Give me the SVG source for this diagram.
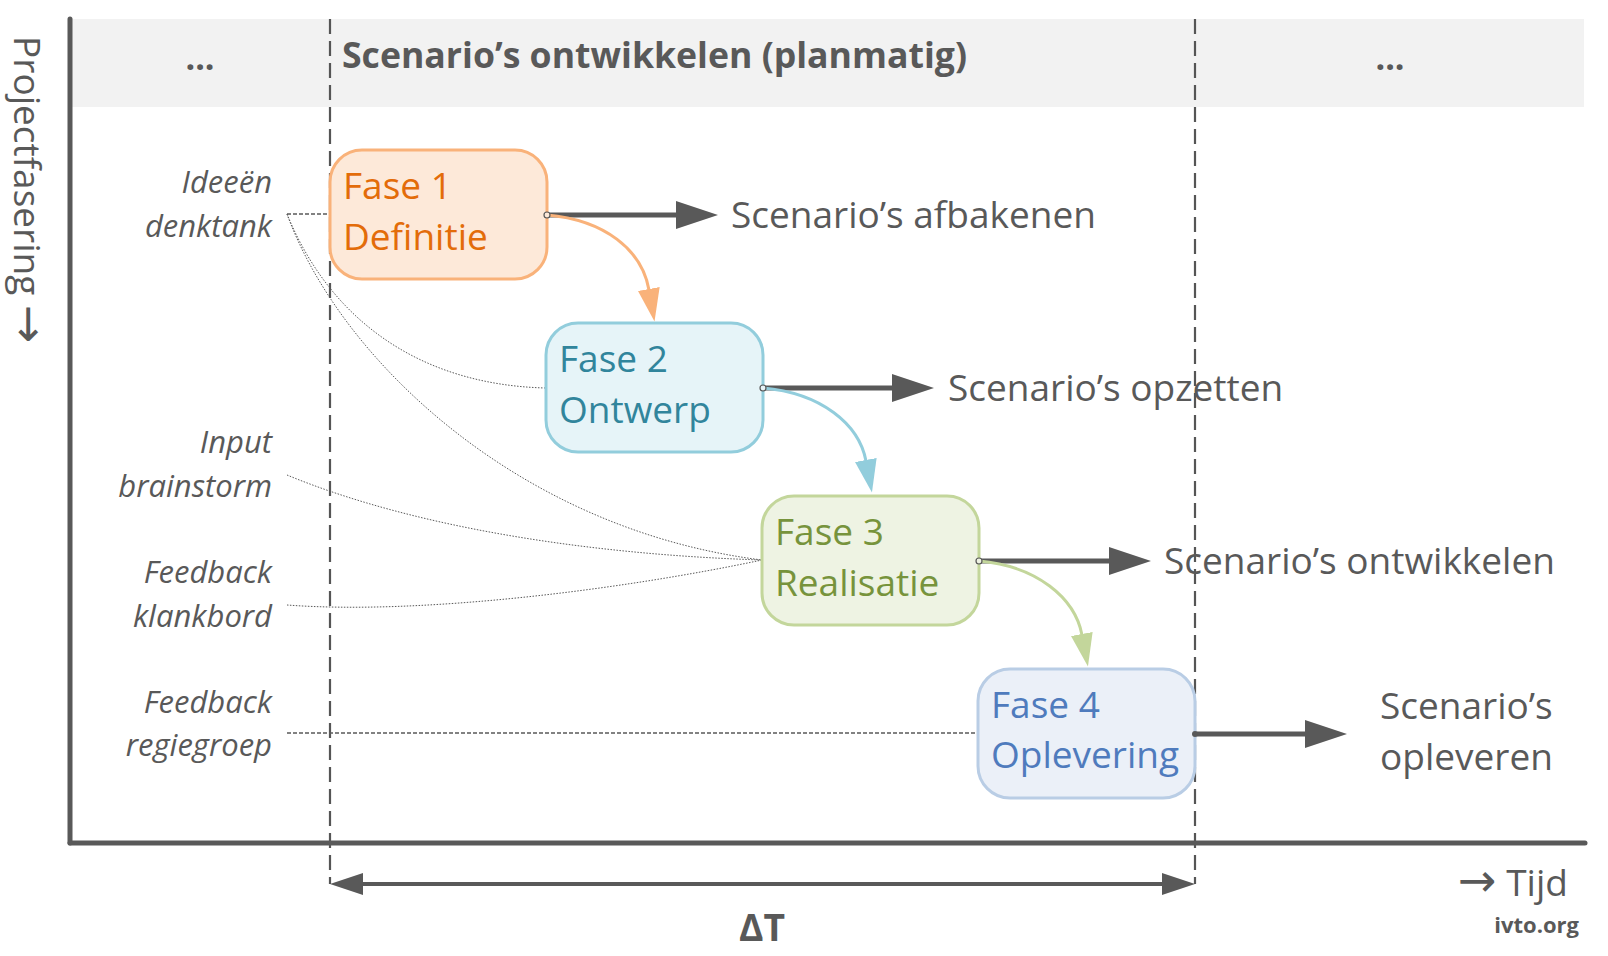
<svg xmlns="http://www.w3.org/2000/svg" width="1608" height="956" viewBox="0 0 1608 956">
<style>
  text { font-family: "Open Sans", "Noto Sans", "Liberation Sans", sans-serif; fill: #595959; }
  .lbl { font-size: 37px; }
  .arr { font-family: "DejaVu Sans", sans-serif; font-size: 46px; }
  .side { font-size: 31px; font-style: italic; text-anchor: end; }
  .box { stroke-width: 3; }
  .boxt { font-size: 37px; }
  .thin { fill: none; stroke: #595959; stroke-width: 1; stroke-dasharray: 1.5 1.5; }
  .dash { fill: none; stroke: #595959; stroke-width: 1.5; stroke-dasharray: 4 2; }
  .vdash { fill: none; stroke: #555555; stroke-width: 2.2; stroke-dasharray: 15 7; }
  .dark { fill: none; stroke: #595959; stroke-width: 5; }
  .axis { fill: none; stroke: #595959; stroke-width: 5; stroke-linecap: round; }
</style>
<defs>
  <marker id="hDark" markerUnits="userSpaceOnUse" viewBox="0 0 42 28" markerWidth="42" markerHeight="28" refX="1" refY="14" orient="auto">
    <path d="M0,0 L42,14 L0,28 z" fill="#595959"/>
  </marker>
  <marker id="hOrange" markerUnits="userSpaceOnUse" viewBox="0 0 33 22" markerWidth="33" markerHeight="22" refX="1" refY="11" orient="auto">
    <path d="M0,0 L33,11 L0,22 z" fill="#f9b27a"/>
  </marker>
  <marker id="hBlue" markerUnits="userSpaceOnUse" viewBox="0 0 33 22" markerWidth="33" markerHeight="22" refX="1" refY="11" orient="auto">
    <path d="M0,0 L33,11 L0,22 z" fill="#92cddc"/>
  </marker>
  <marker id="hGreen" markerUnits="userSpaceOnUse" viewBox="0 0 33 22" markerWidth="33" markerHeight="22" refX="1" refY="11" orient="auto">
    <path d="M0,0 L33,11 L0,22 z" fill="#c3d69b"/>
  </marker>
</defs>

<rect width="1608" height="956" fill="#ffffff"/>

<!-- header band -->
<g id="header">
  <rect x="70" y="19" width="1514" height="88" fill="#f2f2f2"/>
  <text x="200" y="70" font-size="34" font-weight="bold" text-anchor="middle">...</text>
  <text x="342" y="68" font-size="35" font-weight="bold" textLength="625" lengthAdjust="spacingAndGlyphs">Scenario’s ontwikkelen (planmatig)</text>
  <text x="1390" y="70" font-size="34" font-weight="bold" text-anchor="middle">...</text>
</g>

<!-- axes -->
<g id="axes">
  <line class="vdash" x1="330" y1="19" x2="330" y2="884"/>
  <line class="vdash" x1="1195" y1="19" x2="1195" y2="884"/>
  <line class="axis" x1="70" y1="19" x2="70" y2="843"/>
  <line class="axis" x1="70" y1="843" x2="1585" y2="843"/>
  <text class="lbl" transform="translate(14,36) rotate(90)">Projectfasering <tspan class="arr">→</tspan></text>
  <text class="lbl" x="1458" y="896"><tspan class="arr">→</tspan> Tijd</text>
  <text x="1579" y="933" font-size="22" font-weight="bold" text-anchor="end">ivto.org</text>
  <line stroke="#595959" stroke-width="4" x1="360" y1="884" x2="1165" y2="884"/>
  <polygon points="330,884 363,873 363,895" fill="#595959"/>
  <polygon points="1195,884 1162,873 1162,895" fill="#595959"/>
  <text x="762" y="941" font-family="Liberation Sans, sans-serif" font-size="38" font-weight="bold" text-anchor="middle" textLength="46" lengthAdjust="spacingAndGlyphs">ΔT</text>
</g>

<!-- side labels -->
<g id="labels">
  <text class="side" x="272" y="193">Ideeën</text>
  <text class="side" x="272" y="237">denktank</text>
  <text class="side" x="272" y="453">Input</text>
  <text class="side" x="272" y="497">brainstorm</text>
  <text class="side" x="272" y="583">Feedback</text>
  <text class="side" x="272" y="627">klankbord</text>
  <text class="side" x="272" y="713">Feedback</text>
  <text class="side" x="272" y="756">regiegroep</text>
</g>

<!-- connectors -->
<g id="connectors">
  <path class="dash" d="M287,214 L330,214"/>
  <path class="thin" d="M287,214 C330,320 420,385 546,388"/>
  <path class="thin" d="M287,214 C340,360 520,530 762,560"/>
  <path class="thin" d="M287,475 C420,530 600,555 762,560"/>
  <path class="thin" d="M287,605 C420,615 620,590 762,560"/>
  <path class="dash" d="M287,733 L978,733"/>

  <path class="dark" d="M547,215 L677,215" marker-end="url(#hDark)"/>
  <path class="dark" d="M763,388 L893,388" marker-end="url(#hDark)"/>
  <path class="dark" d="M979,561 L1110,561" marker-end="url(#hDark)"/>
  <path class="dark" d="M1195,734 L1306,734" marker-end="url(#hDark)"/>

  <path d="M547,215 C605,220 642,250 649,290" fill="none" stroke="#f9b27a" stroke-width="3" marker-end="url(#hOrange)"/>
  <path d="M763,388 C821,393 859,424 866,461" fill="none" stroke="#92cddc" stroke-width="3" marker-end="url(#hBlue)"/>
  <path d="M979,561 C1037,566 1075,598 1082,635" fill="none" stroke="#c3d69b" stroke-width="3" marker-end="url(#hGreen)"/>
</g>

<!-- nodes -->
<g id="fase1">
  <rect class="box" x="330" y="150" width="217" height="129" rx="32" fill="#fde9d9" stroke="#f9b27a"/>
  <text class="boxt" x="343" y="199" style="fill:#e36c09">Fase 1</text>
  <text class="boxt" x="343" y="250" style="fill:#e36c09">Definitie</text>
</g>
<g id="fase2">
  <rect class="box" x="546" y="323" width="217" height="129" rx="32" fill="#e6f4f8" stroke="#92cddc"/>
  <text class="boxt" x="559" y="372" style="fill:#31859c">Fase 2</text>
  <text class="boxt" x="559" y="423" style="fill:#31859c">Ontwerp</text>
</g>
<g id="fase3">
  <rect class="box" x="762" y="496" width="217" height="129" rx="32" fill="#eef3e3" stroke="#c3d69b"/>
  <text class="boxt" x="775" y="545" style="fill:#77933c">Fase 3</text>
  <text class="boxt" x="775" y="596" style="fill:#77933c">Realisatie</text>
</g>
<g id="fase4">
  <rect class="box" x="978" y="669" width="217" height="129" rx="32" fill="#ebf0f8" stroke="#b9cde5"/>
  <text class="boxt" x="991" y="718" style="fill:#4f7bbd">Fase 4</text>
  <text class="boxt" x="991" y="768" style="fill:#4f7bbd">Oplevering</text>
</g>

<circle cx="547" cy="215" r="3" fill="#fde9d9" stroke="#595959" stroke-width="1.2"/>
<circle cx="763" cy="388" r="3" fill="#e6f4f8" stroke="#595959" stroke-width="1.2"/>
<circle cx="979" cy="561" r="3" fill="#eef3e3" stroke="#595959" stroke-width="1.2"/>
<circle cx="1195" cy="734" r="3" fill="#595959"/>

<!-- outcome labels -->
<g id="outcomes">
  <text class="lbl" x="731" y="228">Scenario’s afbakenen</text>
  <text class="lbl" x="948" y="401">Scenario’s opzetten</text>
  <text class="lbl" x="1164" y="574">Scenario’s ontwikkelen</text>
  <text class="lbl" x="1380" y="719">Scenario’s</text>
  <text class="lbl" x="1380" y="770">opleveren</text>
</g>
</svg>
